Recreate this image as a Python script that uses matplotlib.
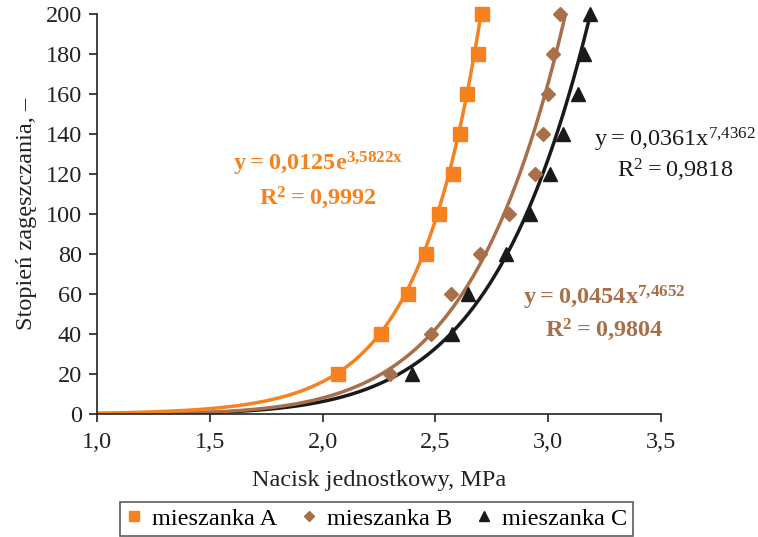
import numpy as np
import matplotlib
matplotlib.use("Agg")
import matplotlib.pyplot as plt

plt.rcParams['font.family'] = ['Liberation Serif', 'DejaVu Serif']
plt.rcParams['mathtext.fontset'] = 'custom'
plt.rcParams['mathtext.rm'] = 'Liberation Serif'
plt.rcParams['mathtext.bf'] = 'Liberation Serif:bold'

# Measured compaction degree vs unit pressure
y_levels = [20, 40, 60, 80, 100, 120, 140, 160, 180, 200]
x_a = [2.067, 2.258, 2.377, 2.458, 2.517, 2.579, 2.609, 2.639, 2.687, 2.708]
x_b = [2.299, 2.479, 2.568, 2.698, 2.826, 2.941, 2.978, 3.000, 3.023, 3.052]
x_c = [2.395, 2.572, 2.646, 2.813, 2.919, 3.008, 3.067, 3.133, 3.160, 3.185]

# Trendline coefficients
a_coef, a_exp = 0.0125, 3.5822   # exponential
b_coef, b_pow = 0.0454, 7.4652   # power
c_coef, c_pow = 0.0361, 7.4362   # power

x_ticks = [1.0, 1.5, 2.0, 2.5, 3.0, 3.5]
x_ticklabels = ["1,0", "1,5", "2,0", "2,5", "3,0", "3,5"]
y_ticks = [0, 20, 40, 60, 80, 100, 120, 140, 160, 180, 200]

col_a = "#F5821F"
col_b = "#A8704A"
col_c = "#1A1A1A"

FS = 17.5

fig = plt.figure(figsize=(7.58, 5.37), dpi=100)
ax = fig.add_axes([0.128, 0.229, 0.744, 0.745])

xs_a = np.linspace(1.0, 2.72, 400)
xs_b = np.linspace(1.0, 3.1, 400)
xs_c = np.linspace(1.0, 3.2, 400)
ax.plot(xs_c, c_coef * xs_c ** c_pow, color=col_c, lw=2.5, zorder=2)
ax.plot(xs_b, b_coef * xs_b ** b_pow, color=col_b, lw=2.5, zorder=2)
ax.plot(xs_a, a_coef * np.exp(a_exp * xs_a), color=col_a, lw=2.5, zorder=2)

ax.plot(x_a, y_levels, ls='none', marker='s', ms=9.5, color=col_a,
        label="mieszanka A", zorder=3, clip_on=False)
ax.plot(x_b, y_levels, ls='none', marker='D', ms=7, color=col_b,
        label="mieszanka B", zorder=3, clip_on=False)
ax.plot(x_c, y_levels, ls='none', marker='^', ms=9.5, color=col_c,
        label="mieszanka C", zorder=3, clip_on=False)

ax.set_xlim(1.0, 3.5)
ax.set_ylim(0, 200)
ax.set_xticks(x_ticks)
ax.set_xticklabels(x_ticklabels)
ax.set_yticks(y_ticks)
for s in ('top', 'right'):
    ax.spines[s].set_visible(False)
for s in ('left', 'bottom'):
    ax.spines[s].set_color("#222222")
    ax.spines[s].set_linewidth(1.2)
ax.tick_params(direction='out', length=6, width=1.2, colors="#222222",
               labelsize=FS, labelcolor="#222222")
ax.tick_params(axis='x', pad=7)
ax.tick_params(axis='y', pad=5)

ax.set_xlabel("Nacisk jednostkowy, MPa", fontsize=FS, color="#222222", labelpad=12)
ax.set_ylabel("Stopień zagęszczania, –", fontsize=FS, color="#222222", labelpad=6)

# Trendline equations
ax.text(1.98, 125, r"$\mathbf{y = 0{,}0125e^{3{,}5822x}}$", color=col_a,
        fontsize=FS, ha='center', va='center')
ax.text(1.98, 108, r"$\mathbf{R^{2} = 0{,}9992}$", color=col_a,
        fontsize=FS, ha='center', va='center')

ax.text(3.563, 137, r"$\mathrm{y = 0{,}0361x^{7{,}4362}}$", color=col_c,
        fontsize=FS, ha='center', va='center')
ax.text(3.563, 122, r"$\mathrm{R^{2} = 0{,}9818}$", color=col_c,
        fontsize=FS, ha='center', va='center')

ax.text(3.25, 58, r"$\mathbf{y = 0{,}0454x^{7{,}4652}}$", color=col_b,
        fontsize=FS, ha='center', va='center')
ax.text(3.25, 42, r"$\mathbf{R^{2} = 0{,}9804}$", color=col_b,
        fontsize=FS, ha='center', va='center')

leg = fig.legend(loc='upper center', bbox_to_anchor=(0.497, 0.088), ncol=3,
                 fontsize=FS, frameon=True, fancybox=False, edgecolor="#333333",
                 handlelength=0.6, handletextpad=0.45, columnspacing=1.0,
                 borderpad=0.25, markerscale=0.8)
leg.get_frame().set_linewidth(1.2)

fig.savefig("out.png", dpi=100)
